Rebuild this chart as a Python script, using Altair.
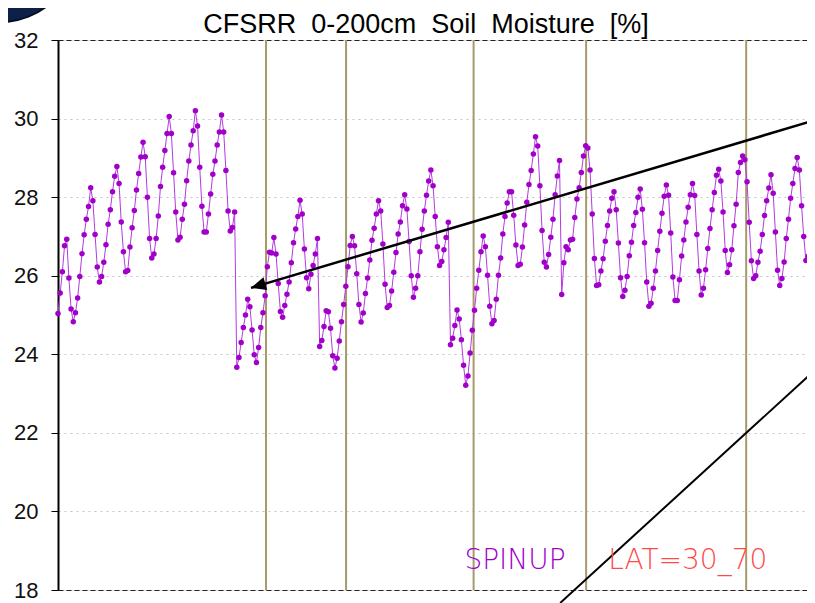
import altair as alt
import pandas as pd

# Monthly 0-200cm soil moisture [%] (SPINUP, LAT=30_70)
soil_moisture = [
    25.04, 25.56, 26.10, 26.76, 26.93, 25.94, 25.15, 24.83, 25.06, 25.43, 25.98, 26.56,
    27.04, 27.44, 27.76, 28.24, 27.91, 27.05, 26.22, 25.84, 25.98, 26.34, 26.79, 27.31,
    27.68, 28.14, 28.53, 28.78, 28.35, 27.37, 26.61, 26.10, 26.13, 26.73, 27.22, 27.66,
    28.18, 28.60, 29.02, 29.40, 29.03, 28.00, 26.95, 26.45, 26.55, 26.95, 27.52, 28.27,
    28.76, 29.19, 29.62, 30.05, 29.62, 28.62, 27.62, 26.91, 26.98, 27.44, 27.82, 28.42,
    28.92, 29.33, 29.69, 30.20, 29.81, 28.76, 27.77, 27.11, 27.11, 27.57, 28.08, 28.58,
    28.92, 29.33, 29.66, 30.09, 29.66, 28.68, 27.65, 27.14, 27.23, 27.62, 23.67, 23.92,
    24.30, 24.68, 25.00, 25.40, 25.21, 24.62, 23.99, 23.79, 24.17, 24.68, 25.06, 25.49,
    26.23, 26.60, 26.58, 26.97, 26.55, 25.80, 25.09, 24.94, 25.24, 25.53, 25.84, 26.33,
    26.84, 27.19, 27.51, 27.92, 27.57, 26.68, 25.95, 25.67, 26.04, 26.26, 26.55, 26.95,
    24.20, 24.35, 24.71, 25.11, 25.08, 24.66, 23.96, 23.65, 23.90, 24.34, 24.83, 25.27,
    25.73, 26.23, 26.77, 27.00, 26.76, 26.05, 25.27, 24.82, 25.05, 25.55, 25.94, 26.40,
    26.90, 27.21, 27.57, 27.91, 27.65, 26.81, 25.78, 25.19, 25.24, 25.61, 26.09, 26.59,
    27.06, 27.37, 27.78, 28.06, 27.70, 26.87, 26.00, 25.45, 25.68, 26.00, 26.61, 27.18,
    27.65, 28.05, 28.41, 28.69, 28.29, 27.51, 26.74, 26.26, 26.36, 26.66, 26.97, 27.36,
    24.24, 24.41, 24.73, 25.13, 24.90, 24.37, 23.72, 23.21, 23.45, 24.03, 24.61, 25.12,
    25.68, 26.14, 26.61, 27.01, 26.74, 26.01, 25.22, 24.78, 24.86, 25.40, 26.01, 26.45,
    27.06, 27.51, 27.85, 28.14, 28.14, 27.54, 26.78, 26.26, 26.29, 26.73, 27.29, 27.87,
    28.32, 28.68, 29.10, 29.54, 29.30, 28.29, 27.15, 26.34, 26.22, 26.54, 26.98, 27.44,
    28.06, 28.54, 28.93, 25.52, 26.33, 26.74, 26.66, 26.91, 26.93, 27.48, 27.95, 28.24,
    28.63, 29.05, 29.31, 29.25, 28.69, 27.57, 26.44, 25.75, 25.77, 26.12, 26.43, 26.88,
    27.28, 27.65, 27.97, 28.14, 27.68, 26.83, 25.95, 25.47, 25.63, 25.98, 26.51, 26.85,
    27.28, 27.61, 28.00, 28.21, 27.69, 26.84, 25.84, 25.22, 25.30, 25.68, 26.12, 26.64,
    27.13, 27.59, 28.02, 28.31, 28.05, 27.09, 25.97, 25.37, 25.37, 25.90, 26.50, 26.91,
    27.37, 27.74, 28.06, 28.35, 28.04, 27.05, 26.12, 25.51, 25.68, 26.15, 26.69, 27.20,
    27.68, 28.12, 28.56, 28.71, 28.41, 27.62, 26.64, 26.08, 26.28, 26.66, 27.27, 27.82,
    28.63, 28.88, 29.05, 28.95, 28.39, 27.36, 26.38, 25.93, 26.00, 26.34, 26.62, 27.05,
    27.53, 27.91, 28.23, 28.57, 28.10, 27.11, 26.14, 25.75, 25.93, 26.35, 26.95, 27.44,
    27.97, 28.35, 28.73, 29.01, 28.69, 27.78, 27.00, 26.39, 26.49, 26.76, 27.04, 27.54,
]
x_end = 343.5                      # month index at the plot's right edge
stream_breaks = [95.4, 132.1, 190.6, 242.2, 315.6]
y_ticks = [18, 20, 22, 24, 26, 28, 30, 32]
arrow_x = [347.2, 88.5]
arrow_y = [29.96, 25.69]
diag_x = [230.3, 347.2]
diag_y = [17.67, 23.60]
label_text = ["SPINUP", "LAT=30_70"]
label_x = [209.6, 288.8]
label_y = [18.54, 18.54]
label_color = ["#a000c8", "#ff4848"]
title_text = "CFSRR\u00a0 0-200cm\u00a0 Soil\u00a0 Moisture\u00a0 [%]"
logo_text = "d Reforec"

df = pd.DataFrame({"month": list(range(len(soil_moisture))), "sm": soil_moisture})
breaks_df = pd.DataFrame({"month": stream_breaks})
arrow_df = pd.DataFrame({"month": arrow_x, "sm": arrow_y, "order": [0, 1]})
tip_df = pd.DataFrame({"month": [arrow_x[1]], "sm": [arrow_y[1]]})
diag_df = pd.DataFrame({"month": diag_x, "sm": diag_y, "order": [0, 1]})
labels_df = pd.DataFrame({"month": label_x, "sm": label_y, "txt": label_text, "col": label_color})
one = pd.DataFrame({"k": [0]})

edge = "datum.value == 18 || datum.value == 32"
y_axis = alt.Axis(
    values=y_ticks, title=None, labelFontSize=22, labelFont="Liberation Sans",
    labelColor="#111111", labelPadding=13, tickSize=7, tickColor="#000000",
    tickWidth=1, domainColor="#000000", domainWidth=2, grid=True,
    gridColor={"condition": {"test": edge, "value": "#222222"}, "value": "#c4c4c4"},
    gridDash={"condition": {"test": edge, "value": [5, 3]}, "value": [2, 4]},
    gridWidth=1,
)
xs = alt.Scale(domain=[0, x_end], nice=False, zero=False)
ys = alt.Scale(domain=[18, 32], nice=False, zero=False)
X = alt.X("month:Q", scale=xs, axis=None)
Y = alt.Y("sm:Q", scale=ys, axis=y_axis)

rules = alt.Chart(breaks_df).mark_rule(color="#a69b68", strokeWidth=2).encode(x=X)
line = alt.Chart(df).mark_line(color="#b53ae0", strokeWidth=1).encode(x=X, y=Y)
pts = alt.Chart(df).mark_point(filled=True, color="#a000c8", size=30, opacity=1).encode(x=X, y=Y)
arrow = alt.Chart(arrow_df).mark_line(color="#000000", strokeWidth=2.5).encode(x=X, y=Y, order="order:Q")
tip = alt.Chart(tip_df).mark_point(
    shape="M0,0L1,-0.44L1,0.44Z", size=900, angle=343.4, filled=True,
    color="#000000", opacity=1,
).encode(x=X, y=Y)
diag = alt.Chart(diag_df).mark_line(color="#000000", strokeWidth=2, clip=False).encode(x=X, y=Y, order="order:Q")
labels = alt.Chart(labels_df).mark_text(
    font="DejaVu Sans", fontSize=28, fontWeight=200, align="center", baseline="alphabetic",
).encode(x=X, y=Y, text="txt:N", color=alt.Color("col:N", scale=None))

title = alt.Chart(one).mark_text(
    text=title_text, font="Liberation Sans", fontSize=27, align="center",
    baseline="alphabetic", color="#000000",
).encode(x=alt.value(368), y=alt.value(-7))

logo_ring = alt.Chart(one).mark_point(
    filled=True, color="#0d2148", size=23779, opacity=1, stroke="#050d20", strokeWidth=2,
).encode(x=alt.value(-58), y=alt.value(-95))
logo_globe = alt.Chart(one).mark_point(
    filled=True, color="#2f7fc6", size=15394, opacity=1,
).encode(x=alt.value(-58), y=alt.value(-95))
logo_txt = alt.Chart(one).mark_text(
    text=logo_text, font="Liberation Sans", fontSize=13, fontWeight="bold",
    color="#ffffff", angle=334, align="center", baseline="middle",
).encode(x=alt.value(-22), y=alt.value(-19))

chart = alt.layer(
    rules, line, pts, arrow, tip, diag, labels, title, logo_ring, logo_globe, logo_txt
).properties(
    width=749, height=550,
    autosize=alt.AutoSizeParams(type="none"),
    padding={"left": 50, "top": 32, "right": 0, "bottom": 13},
).configure_view(stroke=None).configure(background="#ffffff")

chart.save("out.html", embed_options={"renderer": "svg", "actions": False})
